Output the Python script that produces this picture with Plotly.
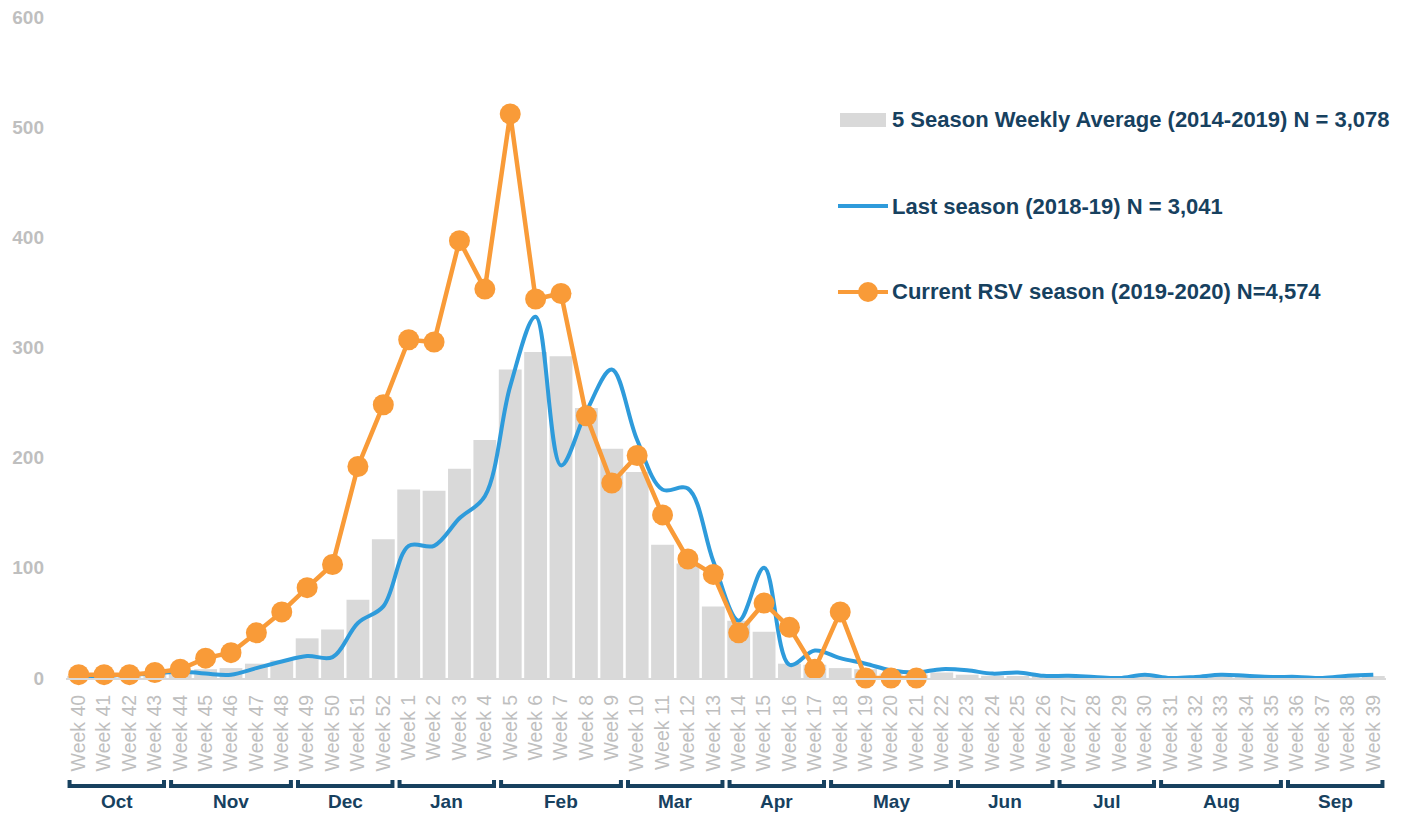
import plotly.graph_objects as go

# ---------------- data ----------------
weeks = [f"Week {w}" for w in list(range(40, 53)) + list(range(1, 40))]

avg_5_season = [2, 2, 3, 4, 5, 8, 9, 13, 16, 36, 44, 71, 126,
                171, 170, 190, 216,
                280, 296, 292, 245, 208,
                187, 121, 104, 65,
                52, 42, 13, 12,
                9, 8, 4, 3, 5,
                3, 2, 1, 1,
                1, 1, 1, 1,
                1, 1, 1, 1, 1,
                1, 1, 1, 1]

last_season = [2, 2, 3, 4, 6, 4, 3, 9, 15, 20, 19, 50, 65,
               120, 120, 145, 165,
               265, 328, 193, 242, 280,
               216, 171, 172, 106,
               52, 100, 12, 25,
               18, 13, 7, 5, 8,
               7, 4, 5, 2,
               2, 1, 0, 3,
               0, 1, 3, 2, 1,
               1, 0, 2, 3]

current_season = [3, 3, 3, 5, 8, 18, 23, 41, 60, 82, 103, 192, 248,
                  307, 305, 397, 353,
                  512, 344, 349, 238, 177,
                  202, 148, 108, 94,
                  41, 68, 46, 8,
                  60, 0, 0, 0] + [None] * 18

months = ["Oct", "Nov", "Dec", "Jan", "Feb", "Mar", "Apr", "May", "Jun", "Jul", "Aug", "Sep"]
month_weeks = [4, 5, 4, 4, 5, 4, 4, 5, 4, 4, 5, 4]

legend_labels = ["5 Season Weekly Average (2014-2019) N = 3,078",
                 "Last season (2018-19) N = 3,041",
                 "Current RSV season (2019-2020) N=4,574"]

# ---------------- style ----------------
GRAY = "#D9D9D9"
BLUE = "#2E9BDB"
ORANGE = "#F99B38"
NAVY = "#17415F"
TICK = "#BFBFBF"

# page has an 8px body margin; figure sized so the plot area lands at
# x 66..1386, y 17..678 of the 1414x815 window
W, H = 1406, 807
L, R, T, B = 58, 28, 9, 137
PW, PH = W - L - R, H - T - B
PLOT_LEFT, PLOT_BOTTOM = 66, 678


def px_x(px):
    return (px - PLOT_LEFT) / PW


def px_y(py):
    return (PLOT_BOTTOM - py) / PH


fig = go.Figure()

fig.add_trace(go.Bar(x=weeks, y=avg_5_season, name=legend_labels[0],
                     marker=dict(color=GRAY, line=dict(width=0))))
fig.add_trace(go.Scatter(x=weeks, y=last_season, name=legend_labels[1], mode="lines",
                         line=dict(color=BLUE, width=4, shape="spline", smoothing=1.0),
                         cliponaxis=False))
fig.add_trace(go.Scatter(x=weeks, y=current_season, name=legend_labels[2], mode="lines+markers",
                         line=dict(color=ORANGE, width=4.5),
                         marker=dict(color=ORANGE, size=21),
                         cliponaxis=False))

shapes = []
annotations = []

# month brackets
y_line = px_y(786)
y_tick_top = px_y(780)
y_tick_bot = px_y(788)
start = 0
for m, n in zip(months, month_weeks):
    x0 = start - 0.5 + 0.08
    x1 = start + n - 1 + 0.5 - 0.08
    shapes.append(dict(type="line", xref="x", yref="paper", x0=x0, x1=x1, y0=y_line, y1=y_line,
                       line=dict(color=NAVY, width=4)))
    for xe in (x0 + 0.06, x1 - 0.06):
        shapes.append(dict(type="line", xref="x", yref="paper", x0=xe, x1=xe,
                           y0=y_tick_bot, y1=y_tick_top, line=dict(color=NAVY, width=4)))
    annotations.append(dict(x=(x0 + x1) / 2, y=px_y(801), xref="x", yref="paper",
                            text="<b>" + m + "</b>", showarrow=False, xanchor="center", yanchor="middle",
                            font=dict(family="Liberation Sans", size=19, color=NAVY)))
    start += n

# manual legend
leg_font = dict(family="Liberation Sans", size=22, color=NAVY)
shapes.append(dict(type="rect", xref="paper", yref="paper",
                   x0=px_x(840), x1=px_x(886), y0=px_y(127), y1=px_y(113),
                   fillcolor=GRAY, line=dict(width=0)))
shapes.append(dict(type="line", xref="paper", yref="paper",
                   x0=px_x(838), x1=px_x(888), y0=px_y(206), y1=px_y(206),
                   line=dict(color=BLUE, width=4)))
shapes.append(dict(type="line", xref="paper", yref="paper",
                   x0=px_x(838), x1=px_x(888), y0=px_y(292), y1=px_y(292),
                   line=dict(color=ORANGE, width=4)))
shapes.append(dict(type="circle", xref="paper", yref="paper",
                   x0=px_x(858), x1=px_x(878), y0=px_y(302), y1=px_y(282),
                   fillcolor=ORANGE, line=dict(width=0)))
for lbl, py in zip(legend_labels, (120, 206, 292)):
    annotations.append(dict(x=px_x(890), y=px_y(py), xref="paper", yref="paper",
                            text="<b>" + lbl + "</b>", showarrow=False,
                            xanchor="left", yanchor="middle", font=leg_font))

fig.update_layout(
    width=W, height=H,
    margin=dict(l=L, r=R, t=T, b=B, autoexpand=False),
    plot_bgcolor="white", paper_bgcolor="white",
    showlegend=False,
    bargap=0.1,
    shapes=shapes,
    annotations=annotations,
    xaxis=dict(type="category", range=[-0.5, 51.5], tickangle=-90, automargin=False,
               showgrid=False, zeroline=False, showline=True,
               linecolor=GRAY, linewidth=2,
               ticks="", ticklabelstandoff=7, ticklabeloverflow="allow",
               tickfont=dict(family="Liberation Sans", size=19.5, color=TICK)),
    yaxis=dict(range=[0, 600], dtick=100, automargin=False,
               showgrid=False, zeroline=False, showline=False,
               ticks="", ticklabelstandoff=21, ticklabeloverflow="allow",
               tickfont=dict(family="Liberation Sans", size=19, color=TICK, weight="bold")),
)

fig.write_html("out.html")
